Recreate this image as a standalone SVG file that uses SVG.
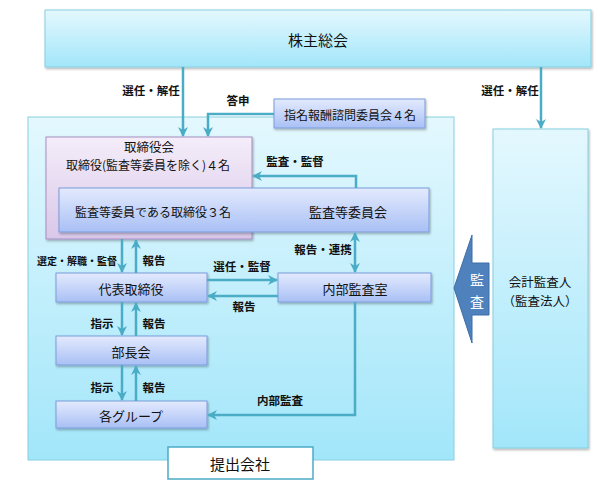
<svg xmlns="http://www.w3.org/2000/svg" width="604" height="489" viewBox="0 0 604 489">
<defs>
<linearGradient id="cyan" x1="0" y1="0" x2="0" y2="1"><stop offset="0" stop-color="#e4f8fe"/><stop offset="1" stop-color="#a2e6fa"/></linearGradient>
<linearGradient id="lav" x1="0" y1="0" x2="0" y2="1"><stop offset="0" stop-color="#f4edf9"/><stop offset="1" stop-color="#d9c7e9"/></linearGradient>
<linearGradient id="blue" x1="0" y1="0" x2="0" y2="1"><stop offset="0" stop-color="#e3eafd"/><stop offset="1" stop-color="#a9c0f5"/></linearGradient>
<filter id="sh" x="-5%" y="-5%" width="110%" height="120%"><feDropShadow dx="1" dy="1.5" stdDeviation="1" flood-color="#000" flood-opacity="0.3"/></filter>
<marker id="ah" viewBox="0 0 10 10" refX="9" refY="5" markerWidth="10" markerHeight="10" markerUnits="userSpaceOnUse" orient="auto-start-reverse"><path d="M0,0 L10,5 L0,10 L3,5 z" fill="#4bacc6"/></marker>
</defs>
<style>
text{font-family:"Noto Sans CJK JP","Noto Sans",sans-serif;fill:#111;text-anchor:middle;dominant-baseline:central}
.cy{fill:url(#cyan);stroke:#86cfe0;stroke-width:1}
.lv{fill:url(#lav);stroke:#a58fc2;stroke-width:1;filter:url(#sh)}
.bl{fill:url(#blue);stroke:#7b9ddb;stroke-width:1;filter:url(#sh)}
.t{font-size:13px}
.lb{font-size:11.5px;font-weight:bold}
.sm{font-size:10px;font-weight:bold}
.c{fill:none;stroke:#4bacc6;stroke-width:2.5}
</style>
<g id="company"><rect x="28" y="117" width="426" height="343" class="cy"/></g>
<g id="shareholders"><rect x="45" y="10" width="546" height="57" class="cy" filter="url(#sh)"/><text x="318" y="39" style="font-size:15px">株主総会</text></g>
<g id="nomination"><rect x="274" y="99" width="151" height="29" class="bl"/><text x="350" y="114" style="font-size:12px">指名報酬諮問委員会４名</text></g>
<g id="board"><rect x="46" y="137" width="206" height="102" class="lv"/><text x="149" y="146" style="font-size:12.5px">取締役会</text><text x="148" y="164" style="font-size:12px">取締役(監査等委員を除く)４名</text></g>
<g id="auditcommittee"><rect x="59" y="188" width="370" height="44" class="bl"/><text x="153" y="211" style="font-size:12px">監査等委員である取締役３名</text><text x="348" y="211" class="t">監査等委員会</text></g>
<g id="president"><rect x="56" y="273" width="151" height="29" class="bl"/><text x="131" y="288" class="t">代表取締役</text></g>
<g id="internalaudit"><rect x="278" y="273" width="153" height="29" class="bl"/><text x="355" y="288" class="t">内部監査室</text></g>
<g id="managers"><rect x="56" y="336" width="151" height="29" class="bl"/><text x="131" y="351" class="t">部長会</text></g>
<g id="groups"><rect x="56" y="401" width="151" height="27" class="bl"/><text x="131" y="415" class="t">各グループ</text></g>
<g id="companylabel"><rect x="168" y="447" width="145" height="32" fill="#fff" stroke="#4bacc6" stroke-width="1.5"/><text x="240" y="463" style="font-size:15px">提出会社</text></g>
<g id="accountant"><rect x="493" y="129" width="95" height="319" class="cy" filter="url(#sh)"/><text x="540" y="281" style="font-size:12.5px">会計監査人</text><text x="540" y="300" style="font-size:12.5px">（監査法人）</text></g>
<g id="auditarrow"><polygon points="454,288 472,235 472,263 489,263 489,315 472,315 472,343" fill="#4f81bd" stroke="#3c6ea8" stroke-width="1"/><text x="477" y="279" style="font-size:14px;fill:#fff">監</text><text x="477" y="301" style="font-size:14px;fill:#fff">査</text></g>
<g id="connectors">
<path class="c" d="M183,67 V136" marker-end="url(#ah)"/>
<path class="c" d="M541,67 V128" marker-end="url(#ah)"/>
<path class="c" d="M274,114 H208 V136" marker-end="url(#ah)"/>
<path class="c" d="M356,188 V176 H253" marker-end="url(#ah)"/>
<path class="c" d="M355,233 V272" marker-start="url(#ah)" marker-end="url(#ah)"/>
<path class="c" d="M122,239 V272" marker-end="url(#ah)"/>
<path class="c" d="M136,273 V240" marker-end="url(#ah)"/>
<path class="c" d="M207,280 H277" marker-end="url(#ah)"/>
<path class="c" d="M278,296 H208" marker-end="url(#ah)"/>
<path class="c" d="M122,302 V335" marker-end="url(#ah)"/>
<path class="c" d="M136,336 V303" marker-end="url(#ah)"/>
<path class="c" d="M122,365 V400" marker-end="url(#ah)"/>
<path class="c" d="M136,401 V366" marker-end="url(#ah)"/>
<path class="c" d="M355,302 V415 H208" marker-end="url(#ah)"/>
</g>
<g id="labels">
<text x="151" y="90" class="lb">選任・解任</text>
<text x="510" y="90" class="lb">選任・解任</text>
<text x="238" y="100" class="lb">答申</text>
<text x="295" y="161" class="lb">監査・監督</text>
<text x="323" y="249" class="lb">報告・連携</text>
<text x="77" y="260" class="sm">選定・解職・監督</text>
<text x="154" y="260" class="lb">報告</text>
<text x="242" y="266" class="lb">選任・監督</text>
<text x="244" y="306" class="lb">報告</text>
<text x="102" y="323" class="lb">指示</text>
<text x="154" y="323" class="lb">報告</text>
<text x="102" y="387" class="lb">指示</text>
<text x="154" y="387" class="lb">報告</text>
<text x="280" y="400" class="lb">内部監査</text>
</g>
</svg>
